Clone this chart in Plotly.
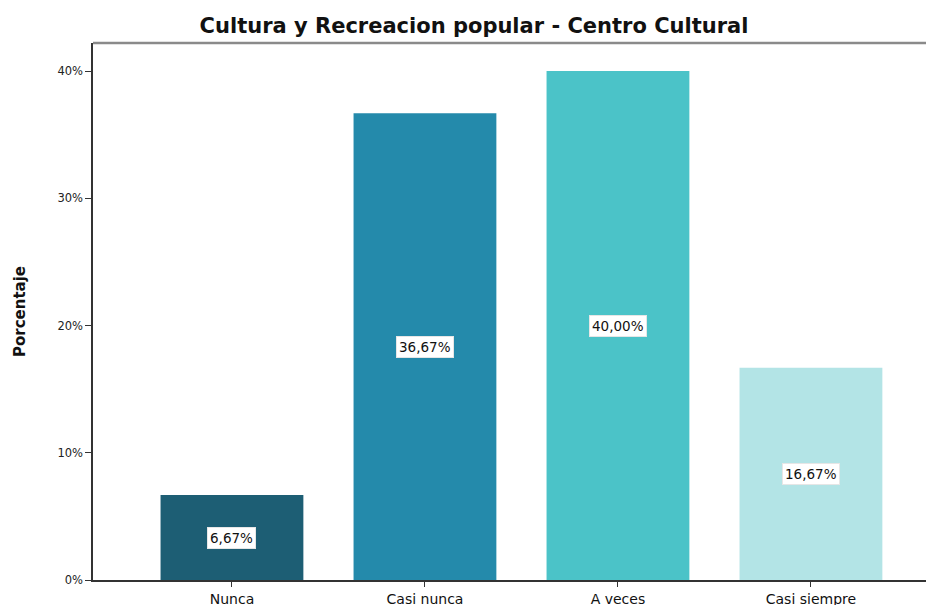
import plotly.graph_objects as go

categories = ["Nunca", "Casi nunca", "A veces", "Casi siempre"]
values = [6.67, 36.67, 40.00, 16.67]
labels = ["6,67%", "36,67%", "40,00%", "16,67%"]
colors = ["#1d5e74", "#248aab", "#4bc3c8", "#b3e4e6"]
y_ticks = [0, 10, 20, 30, 40]
y_tick_text = ["0%", "10%", "20%", "30%", "40%"]

FONT = "DejaVu Sans, Liberation Sans, Arial"

fig = go.Figure()
fig.add_trace(go.Bar(
    x=list(range(len(categories))), y=values, marker=dict(color=colors, line=dict(width=0)),
    width=0.74, hoverinfo="skip",
))
for i, (v, t) in enumerate(zip(values, labels)):
    fig.add_annotation(x=i, y=v / 2, text=t, showarrow=False,
                       font=dict(family=FONT, size=13.5, color="#111"),
                       bgcolor="white", bordercolor="#e6e6e6", borderwidth=1, borderpad=2)

fig.add_shape(type="line", xref="paper", yref="paper", x0=0, x1=1, y0=1, y1=1,
              line=dict(color="#8a8a8a", width=2.5))

fig.update_layout(
    width=934, height=605,
    margin=dict(l=85, r=0, t=35, b=33),
    paper_bgcolor="white", plot_bgcolor="white",
    showlegend=False,
    title=dict(text="<b>Cultura y Recreacion popular - Centro Cultural</b>",
               x=0.4488, xanchor="center", xref="paper", y=1 - 18 / 605, yanchor="middle",
               font=dict(family=FONT, size=21, color="#111")),
    xaxis=dict(range=[-0.72, 3.679], tickmode="array", tickvals=list(range(len(categories))),
               ticktext=categories, showgrid=False, zeroline=False,
               showline=True, linecolor="#333", linewidth=1.5,
               ticks="outside", ticklen=5, tickcolor="#333",
               tickfont=dict(family=FONT, size=14, color="#111")),
    yaxis=dict(range=[0, 42.2], tickmode="array", tickvals=y_ticks, ticktext=y_tick_text,
               showgrid=False, zeroline=False, showline=True, linecolor="#333", linewidth=1.5,
               ticks="outside", ticklen=6, tickcolor="#333",
               tickfont=dict(family=FONT, size=11.5, color="#222"),
               title=dict(text="<b>Porcentaje</b>", standoff=28,
                          font=dict(family=FONT, size=15, color="#111"))),
)
fig.write_html("out.html")
